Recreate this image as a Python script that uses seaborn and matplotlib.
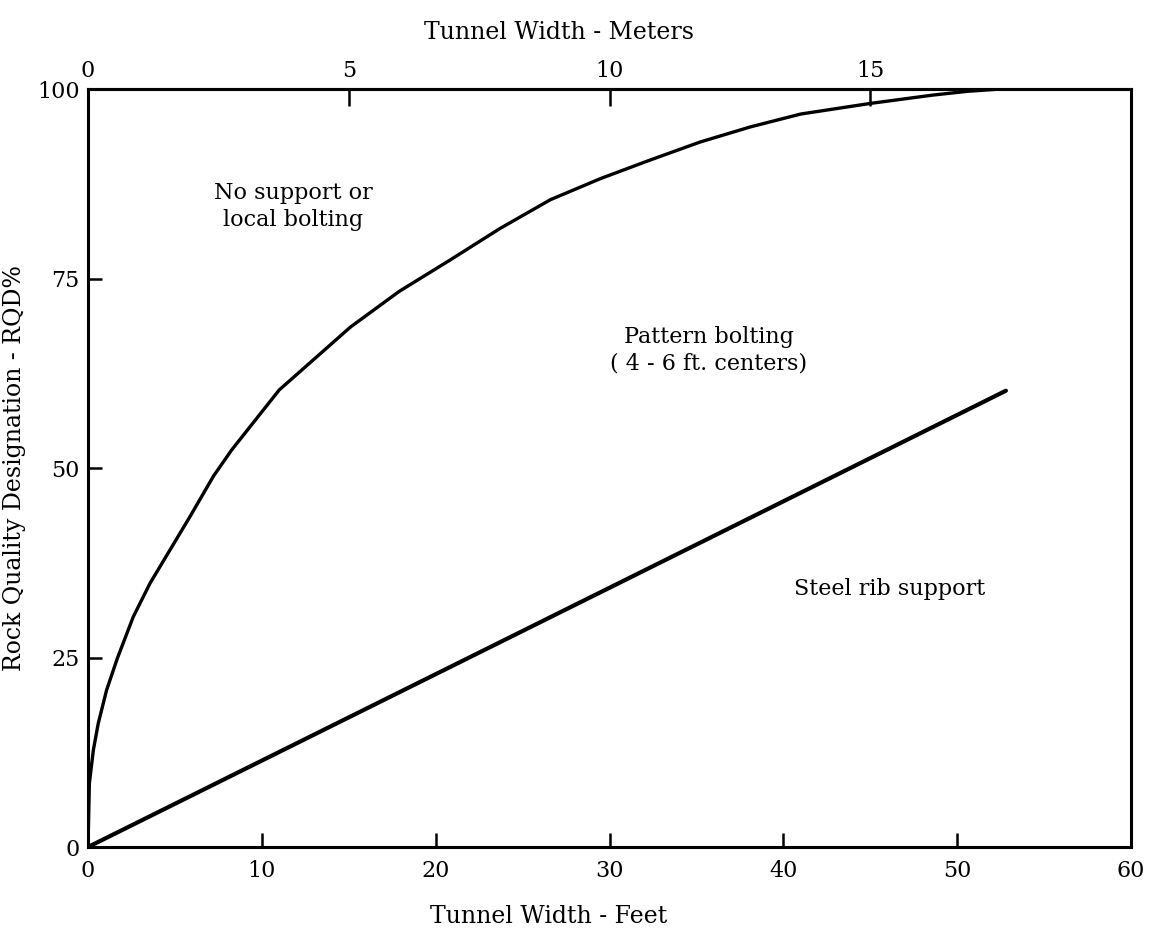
import matplotlib
matplotlib.use("Agg")
import matplotlib.pyplot as plt
import seaborn as sns
import pandas as pd

# Upper boundary: no support / pattern bolting (tunnel width in feet vs RQD %)
upper_feet = [0, 0.08, 0.31, 0.59, 1.07, 1.69, 2.61, 3.57, 4.72, 5.87, 7.21,
              8.27, 11.0, 15.1, 17.9, 20.8, 23.7, 26.6, 29.5, 32.3, 35.2,
              38.1, 41.0, 45.0, 48.6, 50.6, 52.5]
upper_rqd = [0, 8.4, 12.8, 16.3, 20.7, 24.9, 30.4, 34.8, 39.2, 43.6, 48.9,
             52.4, 60.3, 68.6, 73.3, 77.4, 81.6, 85.4, 88.2, 90.6, 93.0,
             95.0, 96.7, 98.1, 99.2, 99.7, 100]

# Lower boundary: pattern bolting / steel rib support
lower_feet = [0, 52.8]
lower_rqd = [0, 60.2]

feet_ticks = [0, 10, 20, 30, 40, 50, 60]
meter_ticks = [0, 5, 10, 15]
rqd_ticks = [0, 25, 50, 75, 100]

region_labels = ["No support or\nlocal bolting",
                 "Pattern bolting\n( 4 - 6 ft. centers)",
                 "Steel rib support"]

sns.set_style("ticks")
plt.rcParams["font.family"] = ["DejaVu Serif"]
plt.rcParams["text.color"] = "black"
plt.rcParams["axes.labelcolor"] = "black"
plt.rcParams["xtick.color"] = "black"
plt.rcParams["ytick.color"] = "black"
plt.rcParams["xtick.direction"] = "in"
plt.rcParams["ytick.direction"] = "in"

FS = 16
LFS = 17

fig = plt.figure(figsize=(11.53, 9.40), dpi=100)
ax = fig.add_axes([0.0763, 0.0989, 0.9047, 0.8064])

upper = pd.DataFrame({"feet": upper_feet, "rqd": upper_rqd})
lower = pd.DataFrame({"feet": lower_feet, "rqd": lower_rqd})
sns.lineplot(data=upper, x="feet", y="rqd", ax=ax, color="black",
             linewidth=2.4, sort=False, estimator=None,
             solid_joinstyle="round", solid_capstyle="round")
sns.lineplot(data=lower, x="feet", y="rqd", ax=ax, color="black",
             linewidth=3.0, sort=False, estimator=None,
             solid_capstyle="round")

ax.set_xlim(0, 60)
ax.set_ylim(0, 100)
ax.set_xticks(feet_ticks)
ax.set_yticks(rqd_ticks)

for side in ["left", "right", "top", "bottom"]:
    ax.spines[side].set_visible(True)
    ax.spines[side].set_linewidth(2.2)
    ax.spines[side].set_color("black")

ax.tick_params(axis="both", which="major", direction="in", length=10,
               width=1.8, labelsize=FS, colors="black")
ax.tick_params(axis="x", pad=9)
ax.tick_params(axis="y", pad=6)

ax.set_xlabel("Tunnel Width - Feet", fontsize=LFS, labelpad=17)
ax.xaxis.label.set_x(0.442)
ax.set_ylabel("Rock Quality Designation - RQD%", fontsize=LFS, labelpad=8)

sec = ax.secondary_xaxis("top", functions=(lambda f: f / 3.0, lambda m: m * 3.0))
sec.set_xticks(meter_ticks)
sec.tick_params(axis="x", direction="in", length=12, width=1.8,
                labelsize=FS, pad=5, colors="black")
sec.spines["top"].set_linewidth(2.2)
sec.set_xlabel("Tunnel Width - Meters", fontsize=LFS, labelpad=15)
sec.xaxis.label.set_x(0.452)

ax.text(11.8, 84.5, region_labels[0], ha="center", va="center",
        fontsize=FS, linespacing=1.25)
ax.text(35.7, 65.5, region_labels[1], ha="center", va="center",
        fontsize=FS, linespacing=1.25)
ax.text(46.1, 34.0, region_labels[2], ha="center", va="center",
        fontsize=FS)

fig.savefig("out.png", dpi=100, facecolor="white")
